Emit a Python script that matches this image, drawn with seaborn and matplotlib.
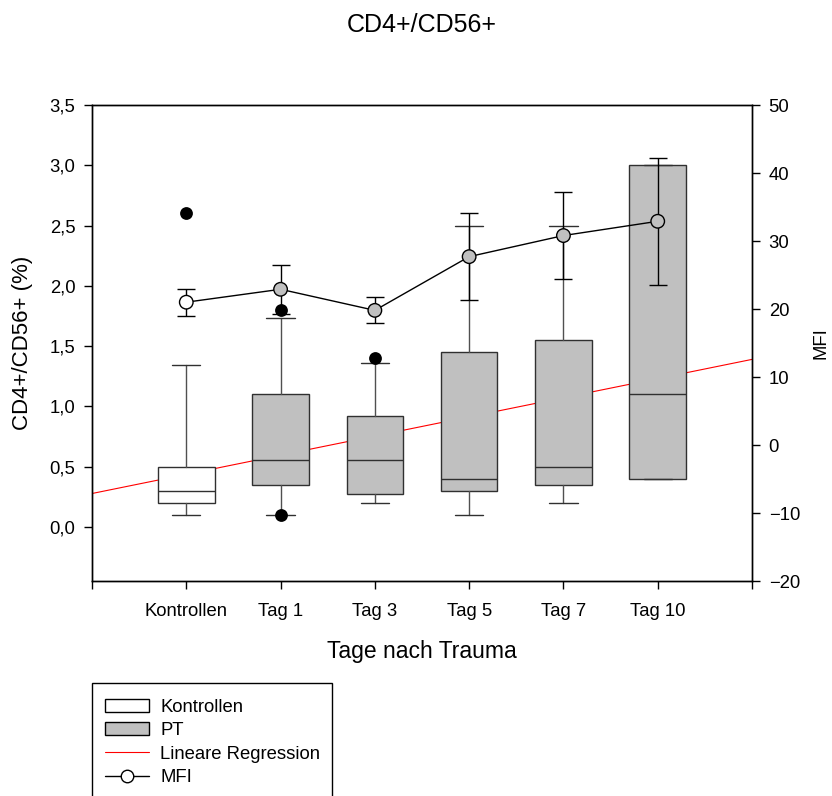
import matplotlib
matplotlib.use("Agg")
import matplotlib.pyplot as plt
from matplotlib.patches import Patch, Rectangle
from matplotlib.lines import Line2D
from matplotlib.ticker import FixedLocator, FuncFormatter
import seaborn as sns
import pandas as pd

sns.set_theme(style="white")
plt.rcParams["font.family"] = ["Liberation Sans", "DejaVu Sans"]
plt.rcParams.update({"text.color": "black", "axes.labelcolor": "black",
                     "xtick.color": "black", "ytick.color": "black"})

# ---- data -------------------------------------------------------------
groups = ["Kontrollen", "Tag 1", "Tag 3", "Tag 5", "Tag 7", "Tag 10"]
cohort = ["Kontrollen", "PT", "PT", "PT", "PT", "PT"]

# CD4+/CD56+ (%) box statistics
whisker_low = [0.10, 0.10, 0.20, 0.10, 0.20, 0.40]
q1 = [0.20, 0.35, 0.27, 0.30, 0.35, 0.40]
median = [0.30, 0.55, 0.55, 0.40, 0.50, 1.10]
q3 = [0.50, 1.10, 0.92, 1.45, 1.55, 3.00]
whisker_high = [1.34, 1.73, 1.36, 2.50, 2.50, 3.00]
outliers = [[2.60], [1.80, 0.10], [1.40], [], [], []]

# MFI mean and error
mfi = [21.0, 22.9, 19.8, 27.7, 30.8, 32.9]
mfi_err = [2.0, 3.6, 1.9, 6.4, 6.4, 9.3]

# linear regression of CD4+/CD56+ over the group index
reg_intercept = 0.435   # value at "Kontrollen"
reg_slope = 0.159       # change per group

# ---- styling ----------------------------------------------------------
fill = {"Kontrollen": "#ffffff", "PT": "#c0c0c0"}
edge = "#303030"
whisk = "#505050"

W, H = 832, 796
fig = plt.figure(figsize=(W / 100, H / 100), dpi=100)
ax = fig.add_axes([92 / W, 1 - 581 / H, 660 / W, 476 / H])

pos = list(range(len(groups)))

# regression line (behind the boxes)
ax.axline((0, reg_intercept), slope=reg_slope, color="#ff0000", lw=0.8, zorder=1)

stats = []
for i, g in enumerate(groups):
    stats.append(dict(label=g, whislo=whisker_low[i], q1=q1[i], med=median[i],
                      q3=q3[i], whishi=whisker_high[i], fliers=[]))
bp = ax.bxp(stats, positions=pos, widths=0.6, capwidths=0.3, patch_artist=True,
            showfliers=False, manage_ticks=False,
            boxprops=dict(edgecolor=edge, linewidth=1.0),
            medianprops=dict(color=edge, linewidth=1.0),
            whiskerprops=dict(color=whisk, linewidth=1.0),
            capprops=dict(color=edge, linewidth=1.0))
for patch, c in zip(bp["boxes"], cohort):
    patch.set_facecolor(fill[c])
    patch.set_zorder(2)

fl = pd.DataFrame([(i, v) for i, vals in enumerate(outliers) for v in vals],
                  columns=["pos", "value"])
sns.scatterplot(data=fl, x="pos", y="value", ax=ax, color="black", s=85,
                edgecolor="black", linewidth=0, zorder=4, legend=False)

ax.set_xlim(-1, 6)
ax.set_ylim(-0.45, 3.5)
ax.xaxis.set_major_locator(FixedLocator(list(range(-1, 7))))
ax.set_xticklabels([""] + groups + [""])
ax.yaxis.set_major_locator(FixedLocator([0, 0.5, 1, 1.5, 2, 2.5, 3, 3.5]))
ax.yaxis.set_major_formatter(FuncFormatter(lambda v, p: f"{v:.1f}".replace(".", ",")))
ax.set_xlabel("Tage nach Trauma", fontsize=16.5, labelpad=14)
ax.set_ylabel("CD4+/CD56+ (%)", fontsize=16, labelpad=12)
ax.tick_params(axis="both", direction="out", length=6, width=1, color="black",
               labelsize=13.3, pad=6, bottom=True, left=True)
ax.tick_params(axis="x", pad=10)
for s in ax.spines.values():
    s.set_color("black")
    s.set_linewidth(1.0)

# MFI on the secondary axis
ax2 = ax.twinx()
mf = pd.DataFrame({"pos": pos, "mfi": mfi, "cohort": cohort})
ax2.errorbar(pos, mfi, yerr=mfi_err, fmt="none", ecolor="black", elinewidth=1.0,
             capsize=6.5, capthick=1.0, zorder=3)
sns.lineplot(data=mf, x="pos", y="mfi", ax=ax2, color="black", lw=1.0,
             sort=False, zorder=4, legend=False)
sns.scatterplot(data=mf, x="pos", y="mfi", hue="cohort", palette=fill, ax=ax2,
                s=95, edgecolor="black", linewidth=1.0, zorder=5, legend=False)
ax2.set_ylim(-20, 50)
ax2.set_xlim(-1, 6)
ax2.yaxis.set_major_locator(FixedLocator(list(range(-20, 51, 10))))
ax2.set_ylabel("MFI", fontsize=13.3, labelpad=9, rotation=90)
ax2.set_xlabel("")
ax2.tick_params(axis="y", direction="out", length=6, width=1, color="black",
                labelsize=13.3, pad=6, right=True)
for s in ax2.spines.values():
    s.set_color("black")
    s.set_linewidth(1.0)

fig.text(422 / W, 1 - 25 / H, "CD4+/CD56+", ha="center", va="center", fontsize=18)

# legend box runs off the bottom edge of the figure
fig.patches.append(Rectangle((92 / W, -20 / H), 240 / W, (H - 683 + 20) / H,
                             transform=fig.transFigure, fill=False,
                             edgecolor="black", linewidth=1.0))

handles = [
    Patch(facecolor=fill["Kontrollen"], edgecolor="black", lw=1.0),
    Patch(facecolor=fill["PT"], edgecolor="black", lw=1.0),
    Line2D([], [], color="#ff0000", lw=0.8),
    Line2D([], [], color="black", lw=1.0, marker="o", markersize=9,
           markerfacecolor="white", markeredgecolor="black"),
]
labels = ["Kontrollen", "PT", "Lineare Regression", "MFI"]
leg = fig.legend(handles, labels, loc="upper left",
                 bbox_to_anchor=(92 / W, 1 - 686 / H), frameon=False,
                 fontsize=13.3, handlelength=2.4,
                 handleheight=0.7, handletextpad=0.6, labelspacing=0.35,
                 borderpad=0.7, borderaxespad=0)

fig.savefig("out.png", dpi=100)
